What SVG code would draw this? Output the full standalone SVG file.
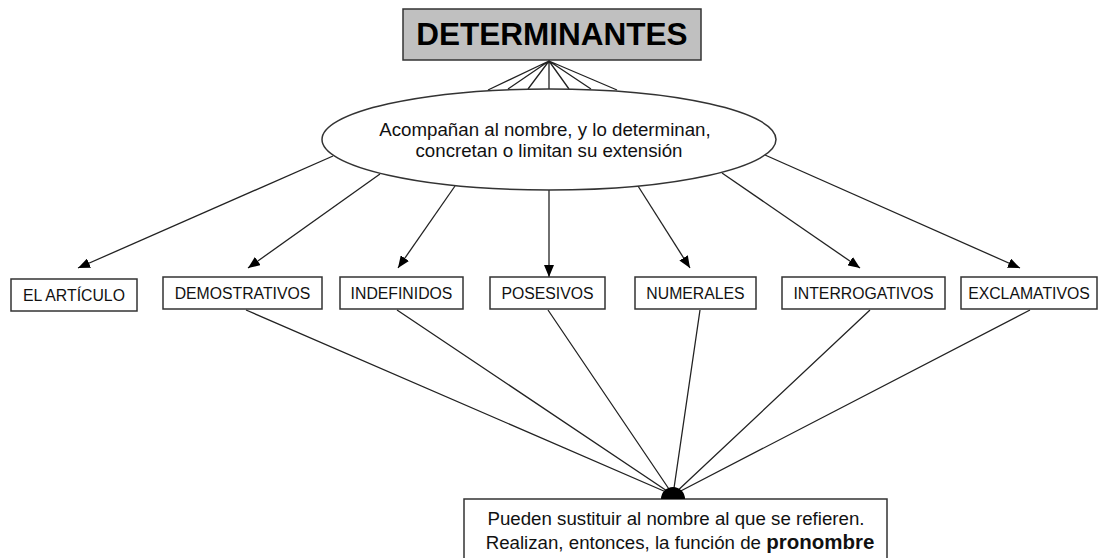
<svg xmlns="http://www.w3.org/2000/svg" width="1100" height="558" viewBox="0 0 1100 558">
<defs>
<style>
.box{fill:#fff;stroke:#333;stroke-width:1.5}
.lbl{font-family:"Liberation Sans",Arial,sans-serif;font-size:15.8px;fill:#111;text-anchor:middle}
.txt{font-family:"Liberation Sans",Arial,sans-serif;font-size:18.7px;fill:#111;text-anchor:middle}
.ln{stroke:#222;stroke-width:1.3;fill:none}
.arr{stroke:#222;stroke-width:1.3;fill:none;marker-end:url(#ah)}
</style>
<marker id="ah" viewBox="0 0 12 10" refX="12" refY="5" markerWidth="12" markerHeight="10" markerUnits="userSpaceOnUse" orient="auto">
<path d="M0,0 L12,5 L0,10 Z" fill="#000"/>
</marker>
</defs>
<rect width="1100" height="558" fill="#fff"/>

<g id="connectors">
<path class="ln" d="M549,61 L488,90 M549,61 L508,89 M549,61 L528,89 M549,61 L549,89 M549,61 L569,89 M549,61 L591,89 M549,61 L617,90"/>
<line class="arr" x1="333" y1="156" x2="78" y2="268"/>
<line class="arr" x1="380" y1="174" x2="248" y2="268"/>
<line class="arr" x1="455" y1="186" x2="398" y2="268"/>
<line class="arr" x1="549" y1="190" x2="549" y2="277"/>
<line class="arr" x1="638" y1="186" x2="690" y2="268"/>
<line class="arr" x1="722" y1="173" x2="860" y2="268"/>
<line class="arr" x1="765" y1="155" x2="1020" y2="268"/>
<path class="ln" d="M246,310 L673,495 M397,310 L673,495 M548,310 L673,495 M700,310 L673,495 M870,310 L673,495 M1030,310 L673,495"/>
</g>

<g id="title">
<rect x="403" y="9" width="298" height="51" fill="#c0c0c0" stroke="#333" stroke-width="1.5"/>
<text x="552" y="45" font-family="Liberation Sans,Arial,sans-serif" font-size="31.5" font-weight="bold" fill="#000" text-anchor="middle">DETERMINANTES</text>
</g>

<g id="ellipse">
<ellipse cx="549" cy="139.5" rx="227" ry="50.5" fill="#fff" stroke="#333" stroke-width="1.5"/>
<text class="txt" x="545" y="136">Acompañan al nombre, y lo determinan,</text>
<text class="txt" x="549" y="157">concretan o limitan su extensión</text>
</g>

<g id="n-articulo">
<rect class="box" x="11" y="279" width="126" height="32"/>
<text class="lbl" x="74" y="301">EL ARTÍCULO</text>
</g>
<g id="n-demostrativos">
<rect class="box" x="163" y="277" width="159" height="32"/>
<text class="lbl" x="242.5" y="299">DEMOSTRATIVOS</text>
</g>
<g id="n-indefinidos">
<rect class="box" x="340" y="277" width="123" height="32"/>
<text class="lbl" x="401.5" y="299">INDEFINIDOS</text>
</g>
<g id="n-posesivos">
<rect class="box" x="490" y="277" width="115" height="32"/>
<text class="lbl" x="547.5" y="299">POSESIVOS</text>
</g>
<g id="n-numerales">
<rect class="box" x="635" y="277" width="121" height="32"/>
<text class="lbl" x="695.5" y="299">NUMERALES</text>
</g>
<g id="n-interrogativos">
<rect class="box" x="782" y="277" width="163" height="32"/>
<text class="lbl" x="863.5" y="299">INTERROGATIVOS</text>
</g>
<g id="n-exclamativos">
<rect class="box" x="961" y="277" width="136" height="32"/>
<text class="lbl" x="1029" y="299">EXCLAMATIVOS</text>
</g>

<g id="n-pronombre">
<rect class="box" x="464" y="499" width="423" height="70"/>
<path d="M661,499 A12,12 0 0 1 685,499 Z" fill="#000"/>
<text class="txt" x="676" y="525">Pueden sustituir al nombre al que se refieren.</text>
<text class="txt" x="680" y="549">Realizan, entonces, la función de <tspan font-weight="bold" font-size="20.5">pronombre</tspan></text>
</g>
</svg>
